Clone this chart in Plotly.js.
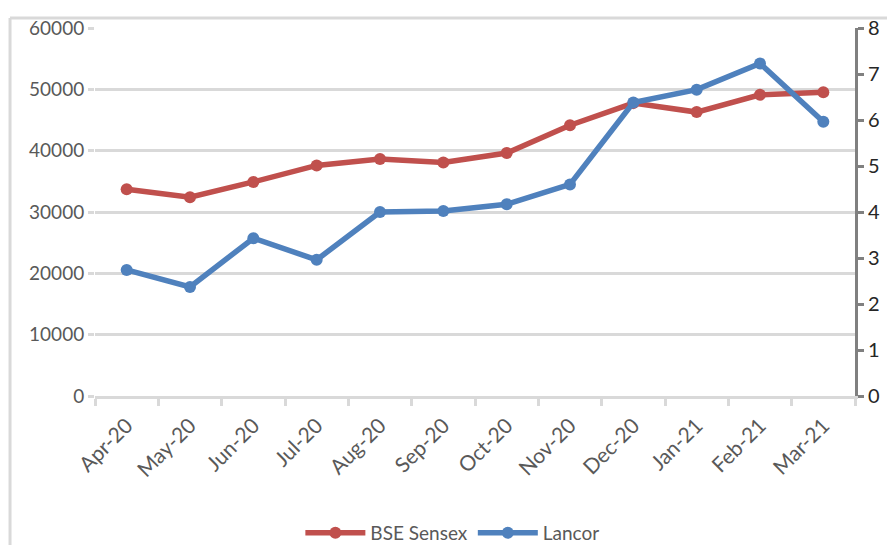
<!DOCTYPE html>
<html>
<head>
<meta charset="utf-8">
<script src="https://cdn.plot.ly/plotly-3.0.1.min.js"></script>
<style>
  html, body { margin: 0; padding: 0; background: #ffffff; }
  #chart { width: 887px; height: 545px; }
</style>
</head>
<body>
<div id="chart"></div>
<script>
const months = ["Apr-20","May-20","Jun-20","Jul-20","Aug-20","Sep-20","Oct-20","Nov-20","Dec-20","Jan-21","Feb-21","Mar-21"];
const bseSensex = [33720, 32420, 34900, 37600, 38630, 38070, 39610, 44150, 47750, 46290, 49100, 49510];
const lancor = [2.74, 2.37, 3.43, 2.96, 4.00, 4.02, 4.17, 4.60, 6.38, 6.66, 7.23, 5.96];
const leftTicks = [0, 10000, 20000, 30000, 40000, 50000, 60000];
const rightTicks = [0, 1, 2, 3, 4, 5, 6, 7, 8];

const FONT = "Lato, 'Open Sans', sans-serif";

const traces = [
  {
    x: months, y: bseSensex, name: "BSE Sensex", type: "scatter", mode: "lines+markers",
    line: { color: "#C0504D", width: 5.5 },
    marker: { color: "#C0504D", size: 12, symbol: "circle" },
    yaxis: "y"
  },
  {
    x: months, y: lancor, name: "Lancor", type: "scatter", mode: "lines+markers",
    line: { color: "#4F81BD", width: 5.5 },
    marker: { color: "#4F81BD", size: 12, symbol: "circle" },
    yaxis: "y2"
  }
];

const layout = {
  width: 887, height: 545,
  margin: { l: 95, r: 32, t: 28, b: 149, autoexpand: false },
  paper_bgcolor: "#ffffff",
  plot_bgcolor: "#ffffff",
  font: { family: FONT, color: "#595959", size: 19 },
  showlegend: true,
  legend: {
    orientation: "h",
    xref: "container", yref: "container",
    x: 0.51, xanchor: "center", y: 0.022, yanchor: "middle",
    font: { family: FONT, size: 19, color: "#595959" },
    itemwidth: 60, traceorder: "normal"
  },
  xaxis: {
    type: "category",
    range: [-0.5, 11.5],
    tickangle: -45,
    tickson: "boundaries",
    ticks: "outside", ticklen: 7, tickwidth: 3, tickcolor: "#d9d9d9",
    ticklabelstandoff: 6,
    showline: true, linecolor: "#d9d9d9", linewidth: 3,
    showgrid: false, zeroline: false,
    tickfont: { family: FONT, size: 21, color: "#595959" }
  },
  yaxis: {
    range: [0, 60000],
    tickvals: leftTicks,
    ticktext: leftTicks.map(String),
    ticks: "outside", ticklen: 6, tickwidth: 3, tickcolor: "#d9d9d9",
    showgrid: true, gridcolor: "#d9d9d9", gridwidth: 3,
    showline: false, zeroline: false,
    tickfont: { family: FONT, size: 19, color: "#595959" }
  },
  yaxis2: {
    range: [0, 8],
    overlaying: "y", side: "right",
    tickvals: rightTicks,
    ticks: "outside", ticklen: 6, tickwidth: 3, tickcolor: "#808080",
    showline: true, linecolor: "#808080", linewidth: 3,
    showgrid: false, zeroline: false,
    tickfont: { family: FONT, size: 20, color: "#262626" }
  },
  shapes: [
    { type: "line", xref: "paper", yref: "paper", x0: -0.1118, x1: -0.1118, y0: 1.027, y1: -0.42,
      line: { color: "#d9d9d9", width: 3 } },
    { type: "line", xref: "paper", yref: "paper", x0: -0.1118, x1: 1.05, y0: 1.027, y1: 1.027,
      line: { color: "#d9d9d9", width: 3 } }
  ]
};

Plotly.newPlot("chart", traces, layout, { displayModeBar: false, staticPlot: true });
</script>
</body>
</html>
